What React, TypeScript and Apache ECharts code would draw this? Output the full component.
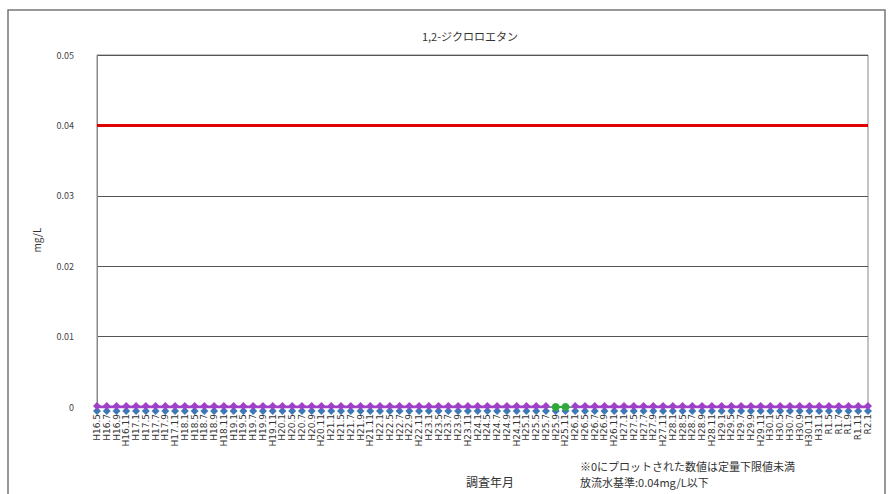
import React, { useEffect, useRef } from "react";
import * as echarts from "echarts";

const title = "1,2-ジクロロエタン";
const yAxisName = "mg/L";
const xAxisName = "調査年月";
const notes = ["※0にプロットされた数値は定量下限値未満", "放流水基準:0.04mg/L以下"];

const categories = [
  "H16.5", "H16.7", "H16.9", "H16.11", "H17.1",
  "H17.5", "H17.7", "H17.9", "H17.11", "H18.1",
  "H18.5", "H18.7", "H18.9", "H18.11", "H19.1",
  "H19.5", "H19.7", "H19.9", "H19.11", "H20.1",
  "H20.5", "H20.7", "H20.9", "H20.11", "H21.1",
  "H21.5", "H21.7", "H21.9", "H21.11", "H22.1",
  "H22.5", "H22.7", "H22.9", "H22.11", "H23.1",
  "H23.5", "H23.7", "H23.9", "H23.11", "H24.1",
  "H24.5", "H24.7", "H24.9", "H24.11", "H25.1",
  "H25.5", "H25.7", "H25.9", "H25.11", "H26.1",
  "H26.5", "H26.7", "H26.9", "H26.11", "H27.1",
  "H27.5", "H27.7", "H27.9", "H27.11", "H28.1",
  "H28.5", "H28.7", "H28.9", "H28.11", "H29.1",
  "H29.5", "H29.7", "H29.9", "H29.11", "H30.1",
  "H30.5", "H30.7", "H30.9", "H30.11", "H31.1",
  "R1.5", "R1.7", "R1.9", "R1.11", "R2.1",
];

// Measured values (below quantification limit plotted as 0)
const siteA = categories.map((_, i) => (i === 47 || i === 48 ? null : 0));
const siteB = categories.map(() => 0);
const siteC = categories.map((_, i) => (i === 47 || i === 48 ? 0 : null));
const standard = categories.map(() => 0.04);

const yTicks = [0, 0.01, 0.02, 0.03, 0.04, 0.05];

export default function App() {
  const ref = useRef<HTMLDivElement>(null);
  useEffect(() => {
    if (!ref.current) return;
    const chart = echarts.init(ref.current, null, { renderer: "svg" });
    const font = "'Noto Sans CJK JP', sans-serif";
    chart.setOption({
      animation: false,
      backgroundColor: "#ffffff",
      textStyle: { fontFamily: font },
      title: {
        text: title,
        left: 465,
        top: 25,
        textAlign: "center",
        textStyle: { fontSize: 11, fontWeight: "normal", color: "#333", fontFamily: font },
      },
      grid: { left: 97, right: 26, top: 55, bottom: 87, show: true, borderColor: "#888", borderWidth: 1 },
      xAxis: {
        type: "category",
        data: categories,
        boundaryGap: false,
        axisLine: { show: true, lineStyle: { color: "#888" } },
        axisTick: { show: false },
        axisLabel: {
          rotate: 90,
          fontSize: 9,
          color: "#333",
          interval: 0,
          margin: 7,
          fontFamily: "'DejaVu Sans', sans-serif",
        },
      },
      yAxis: {
        type: "value",
        min: yTicks[0],
        max: yTicks[yTicks.length - 1],
        interval: 0.01,
        axisLine: { show: true, lineStyle: { color: "#888" } },
        axisTick: { show: false },
        splitLine: { show: true, lineStyle: { color: "#555", width: 1 } },
        axisLabel: {
          fontSize: 9,
          color: "#444",
          margin: 23,
          formatter: (v: number) => (v === 0 ? "0" : v.toFixed(2)),
        },
      },
      graphic: [
        {
          type: "rect",
          shape: { x: 8, y: 10, width: 877, height: 500 },
          style: { fill: "none", stroke: "#777", lineWidth: 1.5 },
          silent: true,
        },
        {
          type: "text",
          x: 36,
          y: 240,
          rotation: Math.PI / 2,
          style: { text: yAxisName, fill: "#333", align: "center", verticalAlign: "middle", font: `10px ${font}` },
        },
        {
          type: "text",
          x: 490,
          y: 481,
          style: { text: xAxisName, fill: "#333", align: "center", verticalAlign: "middle", font: `12px ${font}` },
        },
        {
          type: "text",
          x: 580,
          y: 466,
          style: { text: notes[0], fill: "#333", align: "left", verticalAlign: "middle", font: `11px ${font}` },
        },
        {
          type: "text",
          x: 580,
          y: 482,
          style: { text: notes[1], fill: "#333", align: "left", verticalAlign: "middle", font: `11px ${font}` },
        },
      ],
      series: [
        {
          name: "基準",
          type: "line",
          data: standard,
          showSymbol: false,
          symbol: "none",
          lineStyle: { color: "#e00000", width: 3 },
          z: 5,
        },
        {
          name: "B",
          type: "line",
          data: siteB,
          symbol: "diamond",
          symbolSize: 8,
          symbolOffset: [0, 4],
          itemStyle: { color: "#3f78b8" },
          lineStyle: { color: "#3f78b8", width: 1 },
          z: 3,
        },
        {
          name: "A",
          type: "line",
          data: siteA,
          symbol: "diamond",
          symbolSize: 8,
          symbolOffset: [0, -1],
          itemStyle: { color: "#a040c8" },
          lineStyle: { color: "#a040c8", width: 3 },
          connectNulls: false,
          z: 4,
        },
        {
          name: "C",
          type: "line",
          data: siteC,
          symbol: "circle",
          symbolSize: 8,
          itemStyle: { color: "#2faa3a" },
          lineStyle: { color: "#2faa3a", width: 2 },
          z: 6,
        },
      ],
    });
    return () => chart.dispose();
  }, []);
  return (
    <div
      ref={ref}
      style={{ position: "absolute", left: 0, top: 0, width: 894, height: 494 }}
    />
  );
}
